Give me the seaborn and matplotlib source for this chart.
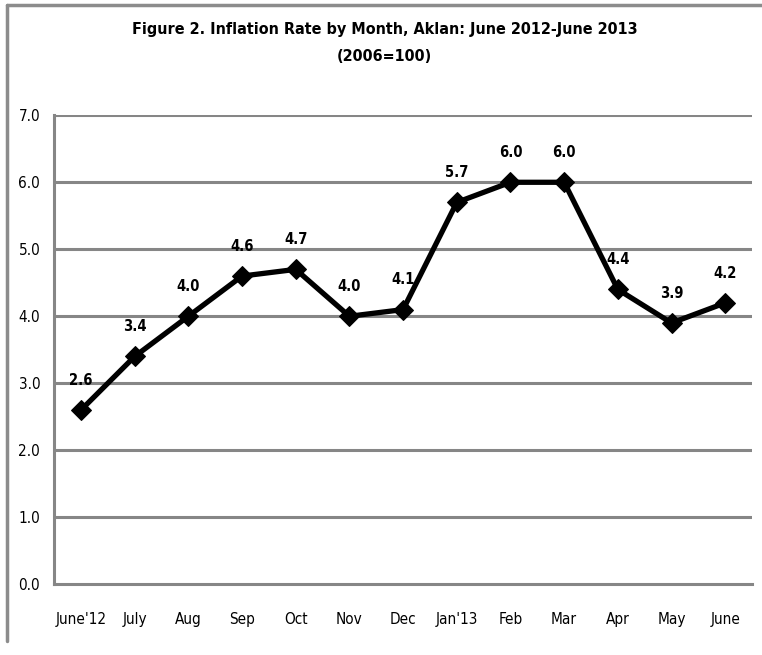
import pandas as pd
import matplotlib
matplotlib.use('Agg')
import matplotlib.pyplot as plt
import seaborn as sns
import numpy as np
from matplotlib.lines import Line2D

months = ["June'12", 'July', 'Aug', 'Sep', 'Oct', 'Nov', 'Dec',
          "Jan'13", 'Feb', 'Mar', 'Apr', 'May', 'June']
inflation = [2.6, 3.4, 4.0, 4.6, 4.7, 4.0, 4.1, 5.7, 6.0, 6.0, 4.4, 3.9, 4.2]
y_ticks = [0.0, 1.0, 2.0, 3.0, 4.0, 5.0, 6.0, 7.0]

df = pd.DataFrame({'month': months, 'rate': inflation})

sns.set_style('white')
plt.rcParams['font.family'] = ['DejaVu Sans']
plt.rcParams['font.stretch'] = 'condensed'
plt.rcParams['text.color'] = 'black'

fig = plt.figure(figsize=(7.62, 6.55), dpi=100)
ax = fig.add_axes([0.071, 0.108, 0.916, 0.716])

grid_col = '#868686'
sns.lineplot(data=df, x='month', y='rate', sort=False, color='black',
             linewidth=3.8, marker='D', markersize=10, markeredgecolor='black',
             ax=ax, zorder=3)

# data labels above each point
for i, v in enumerate(inflation):
    ax.annotate(f'{v:.1f}', (i, v), xytext=(0, 16), textcoords='offset points',
                ha='center', va='bottom', fontsize=10.5, fontweight='bold')

ax.set_ylim(0, 7)
ax.set_xlim(-0.5, len(months) - 0.5)
ax.set_yticks(y_ticks)
ax.set_yticklabels([f'{t:.1f}' for t in y_ticks], fontsize=11)
ax.set_xticks(range(len(months)))
ax.set_xticklabels(months, fontsize=11)
ax.set_xticks(np.arange(-0.5, len(months)), minor=True)
ax.tick_params(axis='x', which='major', length=0, pad=20, labelcolor='black')
ax.tick_params(axis='x', which='minor', length=5, width=2, color=grid_col, direction='out')
ax.tick_params(axis='y', length=5, width=2, color=grid_col, pad=5, labelcolor='black')
ax.set_xlabel('')
ax.set_ylabel('')

for g in y_ticks[1:]:
    ax.axhline(g, color=grid_col, linewidth=2.2, zorder=1)

for s in ['top', 'right']:
    ax.spines[s].set_visible(False)
for s in ['left', 'bottom']:
    ax.spines[s].set_color(grid_col)
    ax.spines[s].set_linewidth(2.2)

fig.text(0.505, 0.955, 'Figure 2. Inflation Rate by Month, Aklan: June 2012-June 2013',
         ha='center', va='center', fontsize=11.5, fontweight='bold')
fig.text(0.505, 0.913, '(2006=100)', ha='center', va='center', fontsize=11.5, fontweight='bold')

# outer chart border (left and top)
fig.add_artist(Line2D([0.009, 0.009], [0.022, 0.993], transform=fig.transFigure,
                      color='#8c8c8c', linewidth=2.5))
fig.add_artist(Line2D([0.009, 1.0], [0.993, 0.993], transform=fig.transFigure,
                      color='#8c8c8c', linewidth=2.5))

plt.savefig('out.png', dpi=100)
plt.close()
